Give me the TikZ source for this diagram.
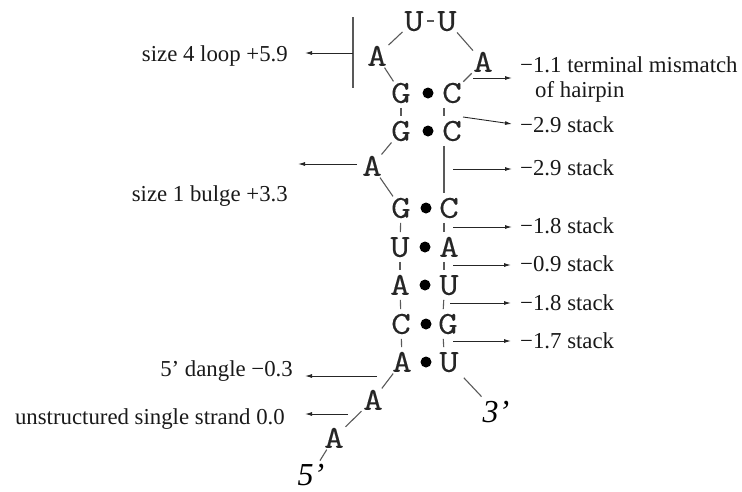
\documentclass[tikz,border=0pt]{standalone}
\usepackage{fontspec}
\setmainfont{Liberation Serif}
\newfontfamily\basefont[FakeStretch=1.2,FakeBold=0.15]{Latin Modern Mono}
\usetikzlibrary{arrows.meta}
\begin{document}
\begin{tikzpicture}[x=1pt,y=-1pt,
  base/.style={font=\fontsize{32}{32}\selectfont\basefont, inner sep=0pt, text height=19.5pt, text depth=0pt, text=black!85},
  pairdot/.style={circle, fill=black, inner sep=0pt, minimum size=11pt},
  bond/.style={draw=black!65, line width=1.1pt, shorten <=2pt, shorten >=2pt},
  tick/.style={draw=black!65, line width=1.1pt, shorten <=5pt, shorten >=5pt},
  ptr/.style={draw=black!85, line width=0.9pt, -{Latex[length=7pt,width=4pt]}},
  lab/.style={font=\fontsize{22.8}{25}\selectfont, inner sep=0pt, text=black!90},
  prime/.style={font=\fontsize{32}{32}\selectfont\itshape, inner sep=0pt}]
\useasboundingbox (0,0) rectangle (742,491);
% hairpin loop
\node[base] (U1) at (414,21) {U};
\node[base] (U2) at (447,21) {U};
\node[base] (AL) at (377,56) {A};
\node[base] (AR) at (483,62) {A};
% stem
\node[base] (L1) at (401,93) {G};
\node[pairdot] (D1) at (428,93) {};
\node[base] (R1) at (452,93) {C};
\node[base] (L2) at (401,131) {G};
\node[pairdot] (D2) at (428,131) {};
\node[base] (R2) at (452,131) {C};
\node[base] (B) at (372,166) {A};
\node[base] (L3) at (401,208) {G};
\node[pairdot] (D3) at (426,208) {};
\node[base] (R3) at (449,208) {C};
\node[base] (L4) at (400,247) {U};
\node[pairdot] (D4) at (425,247) {};
\node[base] (R4) at (449,247) {A};
\node[base] (L5) at (400,285) {A};
\node[pairdot] (D5) at (425,285) {};
\node[base] (R5) at (449,285) {U};
\node[base] (L6) at (401,324) {C};
\node[pairdot] (D6) at (426,324) {};
\node[base] (R6) at (448,324) {G};
\node[base] (L7) at (402,362) {A};
\node[pairdot] (D7) at (426,362) {};
\node[base] (R7) at (449,362) {U};
\node[base] (A8) at (373,400) {A};
\node[base] (A9) at (334,438) {A};
\node[prime] (P5) at (311,475) {5’};
\node[prime] (P3) at (496,412) {3’};
% backbone
\draw[bond, shorten <=3pt, shorten >=3pt] (U1) -- (U2);
\draw[bond] (AL) -- (U1);
\draw[bond] (AL) -- (L1);
\draw[bond] (U2) -- (AR);
\draw[bond] (AR) -- (R1);
\draw[tick] (L1) -- (L2);
\draw[tick] ([xshift=-8pt]R1.south) -- ([xshift=-8pt]R2.north);
\draw[bond] (L2) -- (B);
\draw[bond] (B) -- (L3);
\draw[tick] ([xshift=-8pt]R2.south) -- ([xshift=-5pt]R3.north);
\draw[tick] (L3) -- (L4);
\draw[tick] ([xshift=-5pt]R3.south) -- ([xshift=-5pt]R4.north);
\draw[tick] (L4) -- (L5);
\draw[tick] ([xshift=-5pt]R4.south) -- ([xshift=-5pt]R5.north);
\draw[tick] (L5) -- (L6);
\draw[tick] ([xshift=-5pt]R5.south) -- ([xshift=-5pt]R6.north);
\draw[tick] (L6) -- (L7);
\draw[tick] ([xshift=-5pt]R6.south) -- ([xshift=-5pt]R7.north);
\draw[bond] (L7) -- (A8);
\draw[bond] (A8) -- (A9);
\draw[bond, shorten >=4pt] (A9) -- (P5);
\draw[bond, shorten <=8pt, shorten >=6pt] (R7) -- (P3);
% left annotations
\coordinate (barT) at (353,17);
\coordinate (barB) at (353,88);
\coordinate (barM) at (353,53);
\coordinate (loopTip) at (305,53);
\draw[draw=black!65, line width=1.1pt] (barT) -- (barB);
\draw[ptr] (barM) -- (loopTip);
\node[lab, anchor=east] (tLoop) at (288,56) {size 4 loop +5.9};
\coordinate (bulgeS) at (357,164);
\coordinate (bulgeTip) at (298,164);
\draw[ptr] (bulgeS) -- (bulgeTip);
\node[lab, anchor=east] (tBulge) at (288,196) {size 1 bulge +3.3};
\coordinate (dangS) at (377,376);
\coordinate (dangTip) at (305,376);
\draw[ptr] (dangS) -- (dangTip);
\node[lab, anchor=east] (tDangle) at (293,371) {5’ dangle −0.3};
\coordinate (ssS) at (348,414);
\coordinate (ssTip) at (305,414);
\draw[ptr] (ssS) -- (ssTip);
\node[lab, anchor=east] (tSingle) at (285,419) {unstructured single strand 0.0};
% right annotations
\node[lab, anchor=west, align=left] (tMis) at (520,80) {−1.1 terminal mismatch\\\hspace*{15pt}of hairpin};
\node[lab, anchor=west] (tS1) at (520,125) {−2.9 stack};
\node[lab, anchor=west] (tS2) at (520,168) {−2.9 stack};
\node[lab, anchor=west] (tS3) at (520,226) {−1.8 stack};
\node[lab, anchor=west] (tS4) at (520,264) {−0.9 stack};
\node[lab, anchor=west] (tS5) at (520,303) {−1.8 stack};
\node[lab, anchor=west] (tS6) at (520,341) {−1.7 stack};
\coordinate (m0) at (473,78);
\coordinate (m1) at (512,78);
\draw[ptr] (m0) -- (m1);
\coordinate (s1a) at (463,117);
\coordinate (s1b) at (512,124);
\draw[ptr] (s1a) -- (s1b);
\coordinate (s2a) at (453,169);
\coordinate (s2b) at (512,169);
\draw[ptr] (s2a) -- (s2b);
\coordinate (s3a) at (453,227);
\coordinate (s3b) at (512,227);
\draw[ptr] (s3a) -- (s3b);
\coordinate (s4a) at (453,265);
\coordinate (s4b) at (511,265);
\draw[ptr] (s4a) -- (s4b);
\coordinate (s5a) at (450,303);
\coordinate (s5b) at (511,303);
\draw[ptr] (s5a) -- (s5b);
\coordinate (s6a) at (453,341);
\coordinate (s6b) at (511,341);
\draw[ptr] (s6a) -- (s6b);
\end{tikzpicture}
\end{document}
